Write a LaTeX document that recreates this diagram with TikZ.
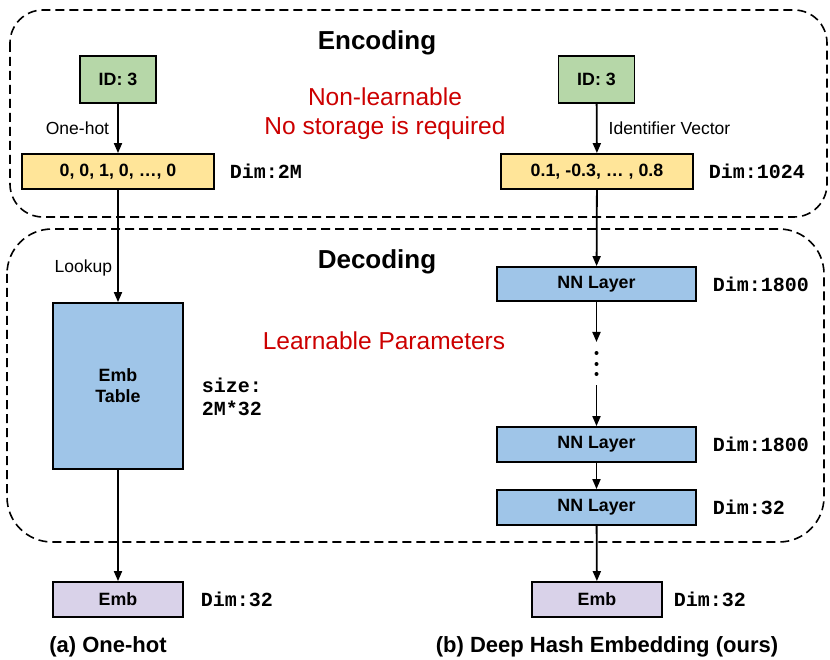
\documentclass[tikz,border=0pt]{standalone}
\usepackage{fontspec}
\setmainfont{Liberation Sans}
\setmonofont{Liberation Mono}
\usetikzlibrary{arrows.meta}
\definecolor{idgreen}{HTML}{B6D7A8}
\definecolor{vecyellow}{HTML}{FFE599}
\definecolor{layerblue}{HTML}{9FC5E8}
\definecolor{embpurple}{HTML}{D9D2E9}
\definecolor{notered}{HTML}{CC0000}
\newcommand{\boxfont}{\fontsize{17.8}{21}\bfseries\selectfont}
\newcommand{\labfont}{\fontsize{17.5}{21}\selectfont}
\newcommand{\dimfont}{\fontsize{20}{23}\ttfamily\bfseries\selectfont}
\newcommand{\redfont}{\fontsize{24.5}{29}\selectfont}
\newcommand{\titlefont}{\fontsize{26}{30}\bfseries\selectfont}
\newcommand{\capfont}{\fontsize{22}{26}\bfseries\selectfont}
\begin{document}
\begin{tikzpicture}[x=1pt,y=-1pt,>={Triangle[length=10pt,width=8pt]},line width=1.8pt,
    box/.style={draw,rectangle,line width=1.8pt,inner sep=0pt,font=\boxfont},
    dimlab/.style={anchor=west,inner sep=0pt,font=\dimfont},
    group/.style={dashed,dash pattern=on 9pt off 5pt,line width=1.6pt}]
    \useasboundingbox (0,0) rectangle (830,660);
    % dashed regions
    \draw[group,rounded corners=33pt] (10,10) rectangle (827,217);
    \draw[group,rounded corners=45pt] (7,229) rectangle (824,542);
    \node[font=\titlefont] (enc) at (377,43) {Encoding};
    \node[font=\titlefont] (dec) at (377,262) {Decoding};
    \node[font=\redfont,text=notered,align=center] (nolearn) at (385,114) {Non-learnable\\No storage is required};
    \node[font=\redfont,text=notered] (learn) at (384,341) {Learnable Parameters};
    % (a) one-hot
    \node[box,fill=idgreen,minimum width=76pt,minimum height=47pt] (idL) at (118,79.5) {ID: 3};
    \node[box,fill=vecyellow,minimum width=192pt,minimum height=35pt] (vecL) at (118,171.5) {0, 0, 1, 0, …, 0};
    \node[box,fill=layerblue,minimum width=130pt,minimum height=166pt,align=center] (tab) at (118,386) {Emb\\Table};
    \node[box,fill=embpurple,minimum width=130pt,minimum height=35pt] (embL) at (118,599.5) {Emb};
    \node[dimlab] (dimvL) at (229,171.5) {Dim:2M};
    \node[dimlab,align=left] (size) at (201,396.5) {size:\\2M*32};
    \node[dimlab] (dimeL) at (200,599.5) {Dim:32};
    \node[font=\capfont] (capL) at (108,647) {(a) One-hot};
    \draw[->] (idL) -- node[left,font=\labfont,inner sep=8pt]{One-hot} (vecL);
    \draw[->] (vecL) -- node[pos=0.7,left,font=\labfont,inner sep=5pt]{Lookup} (tab);
    \draw[->] (tab) -- (embL);
    % (b) deep hash embedding
    \node[box,fill=idgreen,minimum width=76pt,minimum height=47pt] (idR) at (596.5,79.5) {ID: 3};
    \node[box,fill=vecyellow,minimum width=192pt,minimum height=35pt] (vecR) at (597,171.5) {0.1, -0.3, … , 0.8};
    \node[box,fill=layerblue,minimum width=199pt,minimum height=34pt] (nn1) at (596.5,284) {NN Layer};
    \node[box,fill=layerblue,minimum width=199pt,minimum height=35pt] (nn2) at (596.5,444.5) {NN Layer};
    \node[box,fill=layerblue,minimum width=199pt,minimum height=35pt] (nn3) at (596.5,507.5) {NN Layer};
    \node[box,fill=embpurple,minimum width=130pt,minimum height=35pt] (embR) at (597,599.5) {Emb};
    \node[dimlab] (dimvR) at (708,171.5) {Dim:1024};
    \node[dimlab] (dim1) at (712,284) {Dim:1800};
    \node[dimlab] (dim2) at (712,444.5) {Dim:1800};
    \node[dimlab] (dim3) at (712,507.5) {Dim:32};
    \node[dimlab] (dimeR) at (673,599.5) {Dim:32};
    \node[font=\capfont] (capR) at (607,647) {(b) Deep Hash Embedding (ours)};
    \coordinate (dtop) at (596.5,342);
    \coordinate (dbot) at (596.5,385);
    \foreach \y in {353,364,374}
        \fill (596.5,\y) circle (2pt);
    \draw[->] (idR) -- node[right,font=\labfont,inner sep=11pt]{Identifier Vector} (vecR);
    \draw[->] (vecR) -- (nn1);
    \draw[->] (nn1) -- (dtop);
    \draw[->] (dbot) -- (nn2);
    \draw[->] (nn2) -- (nn3);
    \draw[->] (nn3) -- (embR);
\end{tikzpicture}
\end{document}
